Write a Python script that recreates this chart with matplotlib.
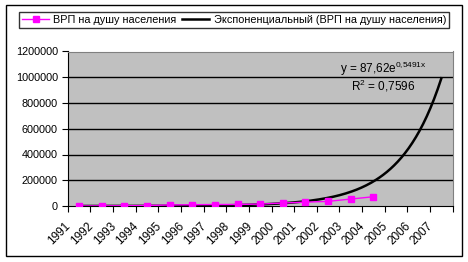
import numpy as np
import matplotlib.pyplot as plt
from matplotlib.patches import Rectangle
from matplotlib.transforms import ScaledTranslation

plt.rcParams['font.family'] = ['Liberation Sans', 'DejaVu Sans']
plt.rcParams['mathtext.fontset'] = 'custom'
plt.rcParams['mathtext.rm'] = 'Liberation Sans'
plt.rcParams['mathtext.it'] = 'Liberation Sans'

years = [str(y) for y in range(1991, 2008)]
grp_years = years[:14]
grp_values = [100, 800, 2000, 3500, 8000, 10000, 11500, 12000,
              15000, 23000, 30000, 36000, 54000, 72000]
trend_a = 87.62
trend_b = 0.5491
yticks = [0, 200000, 400000, 600000, 800000, 1000000, 1200000]

W, H = 468, 262
fig = plt.figure(figsize=(W / 100, H / 100), dpi=100)
fig.patch.set_facecolor('white')
fig.patches.append(Rectangle((6 / W, 1 - 256 / H), 456 / W, 251 / H,
                             transform=fig.transFigure, fill=False,
                             edgecolor='black', linewidth=1))

ax = fig.add_axes([67.7 / W, 1 - 206 / H, 385 / W, (206 - 51.5) / H])
ax.set_facecolor('#C0C0C0')

pos = np.arange(len(years))
grp_pos = [years.index(y) for y in grp_years]

# trendline from the displayed Excel equation, x = 1..17
tx = np.linspace(1, len(years), 300)
ax.plot(tx - 1, trend_a * np.exp(trend_b * tx), color='black', lw=1.8, zorder=3,
        label='Экспоненциальный (ВРП на душу населения)')
ax.plot(grp_pos, grp_values, color='#FF00FF', lw=1, marker='s', ms=5,
        zorder=4, label='ВРП на душу населения')

ax.set_xlim(-0.5, len(years) - 0.5)
ax.set_ylim(0, 1200000)
ax.set_yticks(yticks)
ax.set_yticklabels([str(v) for v in yticks], fontsize=7.8)
for v in yticks[1:-1]:
    ax.axhline(v, color='black', lw=1, zorder=1)

ax.set_xticks(np.arange(len(years) + 1) - 0.5)
ax.set_xticklabels([])
ax.set_xticks(pos, minor=True)
ax.set_xticklabels(years, minor=True, rotation=45, ha='right', va='top',
                   fontsize=8.5)
ax.tick_params(axis='x', which='minor', length=0, pad=10)
ax.tick_params(axis='x', which='major', length=4, direction='out')
ax.tick_params(axis='y', length=4, direction='out', pad=3)
off = ScaledTranslation(-6 / 100, 0, fig.dpi_scale_trans)
for lbl in ax.get_xticklabels(minor=True):
    lbl.set_transform(lbl.get_transform() + off)

for side in ['top', 'right']:
    ax.spines[side].set_color('#808080')
for side in ['left', 'bottom']:
    ax.spines[side].set_color('black')

ax.text(0.82, 0.885, r'y = 87,62e$^{\mathregular{0{,}5491x}}$',
        transform=ax.transAxes, ha='center', va='center', fontsize=8.5)
ax.text(0.82, 0.775, r'R$^{\mathregular{2}}$ = 0,7596',
        transform=ax.transAxes, ha='center', va='center', fontsize=8.5)

h, l = ax.get_legend_handles_labels()
leg = fig.legend(h[::-1], l[::-1], loc='center', ncol=2,
                 bbox_to_anchor=(234 / W, 1 - 20 / H), fontsize=7.8,
                 frameon=True, fancybox=False, edgecolor='black',
                 handlelength=2.5, handletextpad=0.4, columnspacing=0.5,
                 borderpad=0.3, borderaxespad=0)
leg.get_frame().set_linewidth(1)

fig.savefig('out.png', dpi=100)
